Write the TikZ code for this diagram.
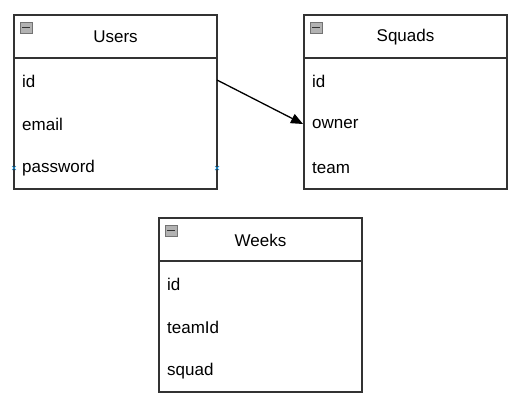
\documentclass[tikz,border=0pt]{standalone}
\usepackage{fontspec}
\setmainfont{Liberation Sans}
\usetikzlibrary{arrows.meta,calc}
\begin{document}
\begin{tikzpicture}[x=1pt,y=-1pt,
  tbl/.style={draw=black!80,line width=1.3pt,fill=white},
  hdr/.style={font=\fontsize{17}{20}\selectfont,anchor=center},
  fld/.style={font=\fontsize{17}{20}\selectfont,anchor=west,inner sep=0pt},
  mk/.style={draw=cyan!70!blue,line width=0.7pt}]
\useasboundingbox (0,0) rectangle (524,407);
\newcommand{\umltable}[6]{%
  % #1 name, #2 x, #3 y, #4 title, #5,#6 unused
  \draw[tbl] (#2,#3) rectangle ++(203,174);
  \draw[line width=1.3pt,black!80] (#2,#3+43) -- ++(203,0);
  \fill[gray!60] (#2+6,#3+7) rectangle ++(12,11);
  \draw[gray!90!black,line width=0.5pt] (#2+6,#3+7) rectangle ++(12,11);
  \draw[black!80,line width=1.4pt] (#2+8,#3+12.5) -- ++(8,0);
  \node[hdr] (#1) at (#2+101.5,#3+22) {#4};
}
\umltable{users}{14}{15}{Users}{}{}
\umltable{squads}{304}{15}{Squads}{}{}
\umltable{weeks}{159}{218}{Weeks}{}{}
\node[fld] (u1) at (22,81) {id};
\node[fld] (u2) at (22,124) {email};
\node[fld] (u3) at (22,168) {password};
\node[fld] (s1) at (312,81) {id};
\node[fld] (s2) at (312,124) {owner};
\node[fld] (s3) at (312,168) {team};
\node[fld] (w1) at (167,284) {id};
\node[fld] (w2) at (167,327) {teamId};
\node[fld] (w3) at (167,371) {squad};
\coordinate (ua) at (217,80);
\coordinate (sa) at (303,124);
\draw[line width=1.3pt,-{Triangle[length=12pt,width=10pt]}] (ua) -- (sa);
\coordinate (m1) at (14,168);
\coordinate (m2) at (217,168);
\foreach \m in {m1,m2}{
  \draw[mk] ($(\m)+(-2,-2)$) -- ($(\m)+(2,2)$);
  \draw[mk] ($(\m)+(-2,2)$) -- ($(\m)+(2,-2)$);
}
\end{tikzpicture}
\end{document}
